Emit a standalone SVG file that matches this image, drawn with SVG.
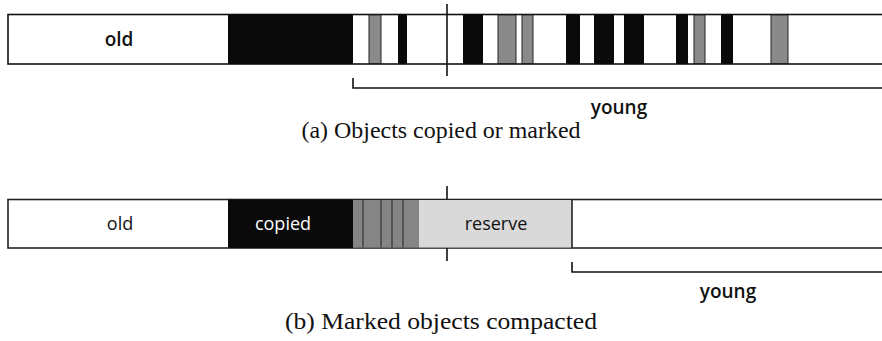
<svg xmlns="http://www.w3.org/2000/svg" width="882" height="341" viewBox="0 0 882 341">
<style>
.lbl{font-family:"Open Sans","Liberation Sans",sans-serif;font-size:18px;fill:#111;text-anchor:middle}
.b{font-weight:600;font-size:19px}
.cap{font-family:"Liberation Serif","DejaVu Serif",serif;font-size:23px;fill:#111;text-anchor:middle}
.blk{fill:#0a0a0a}
.gry{fill:#8a8a8a;stroke:#222;stroke-width:1}
.ln{stroke:#111;stroke-width:1.6;fill:none}
</style>
<rect width="882" height="341" fill="#fff"/>
<g id="heapA">
<rect x="8" y="14.5" width="880" height="49.5" fill="#fff" stroke="#111" stroke-width="1.6"/>
<rect class="blk" x="228" y="14.5" width="125" height="49.5"/>
<rect class="gry" x="369" y="15" width="12" height="48.5"/>
<rect class="blk" x="398" y="14.5" width="9" height="49.5"/>
<rect class="blk" x="463" y="14.5" width="20" height="49.5"/>
<rect class="gry" x="498" y="15" width="18" height="48.5"/>
<rect class="gry" x="522" y="15" width="11" height="48.5"/>
<rect class="blk" x="566" y="14.5" width="14" height="49.5"/>
<rect class="blk" x="594" y="14.5" width="20" height="49.5"/>
<rect class="blk" x="624" y="14.5" width="20" height="49.5"/>
<rect class="blk" x="676" y="14.5" width="12" height="49.5"/>
<rect class="gry" x="694" y="15" width="11" height="48.5"/>
<rect class="blk" x="721" y="14.5" width="12" height="49.5"/>
<rect class="gry" x="771" y="15" width="17" height="48.5"/>
<text class="lbl b" x="119" y="46">old</text>
</g>
<g id="heapB">
<rect x="8" y="199.5" width="880" height="48.5" fill="#fff" stroke="#222" stroke-width="1.6"/>
<rect class="blk" x="228" y="199.5" width="125" height="48.5"/>
<rect x="353" y="200" width="66" height="47.5" fill="#858585"/>
<g stroke="#333" stroke-width="1.2">
<line x1="363" y1="200" x2="363" y2="247.5"/>
<line x1="381" y1="200" x2="381" y2="247.5"/>
<line x1="392" y1="200" x2="392" y2="247.5"/>
<line x1="403" y1="200" x2="403" y2="247.5"/>
</g>
<rect x="419" y="200" width="153" height="47.5" fill="#d9d9d9"/>
<line x1="572" y1="199.5" x2="572" y2="248" stroke="#222" stroke-width="1.6"/>
<text class="lbl" x="120" y="230">old</text>
<text class="lbl" x="283" y="230" style="fill:#fff">copied</text>
<text class="lbl" x="496" y="230">reserve</text>
</g>
<g id="connectors">
<line class="ln" x1="447" y1="4" x2="447" y2="76"/>
<polyline class="ln" points="353,78 353,88 882,88"/>
<line class="ln" x1="447" y1="186" x2="447" y2="199"/>
<line class="ln" x1="447" y1="248" x2="447" y2="261"/>
<polyline class="ln" points="572,262 572,272 882,272"/>
</g>
<g id="labels">
<text class="lbl b" x="619" y="114">young</text>
<text class="lbl b" x="728" y="298">young</text>
<text class="cap" x="441" y="138" textLength="279" lengthAdjust="spacingAndGlyphs">(a) Objects copied or marked</text>
<text class="cap" x="441" y="329" textLength="312" lengthAdjust="spacingAndGlyphs">(b) Marked objects compacted</text>
</g>
</svg>
